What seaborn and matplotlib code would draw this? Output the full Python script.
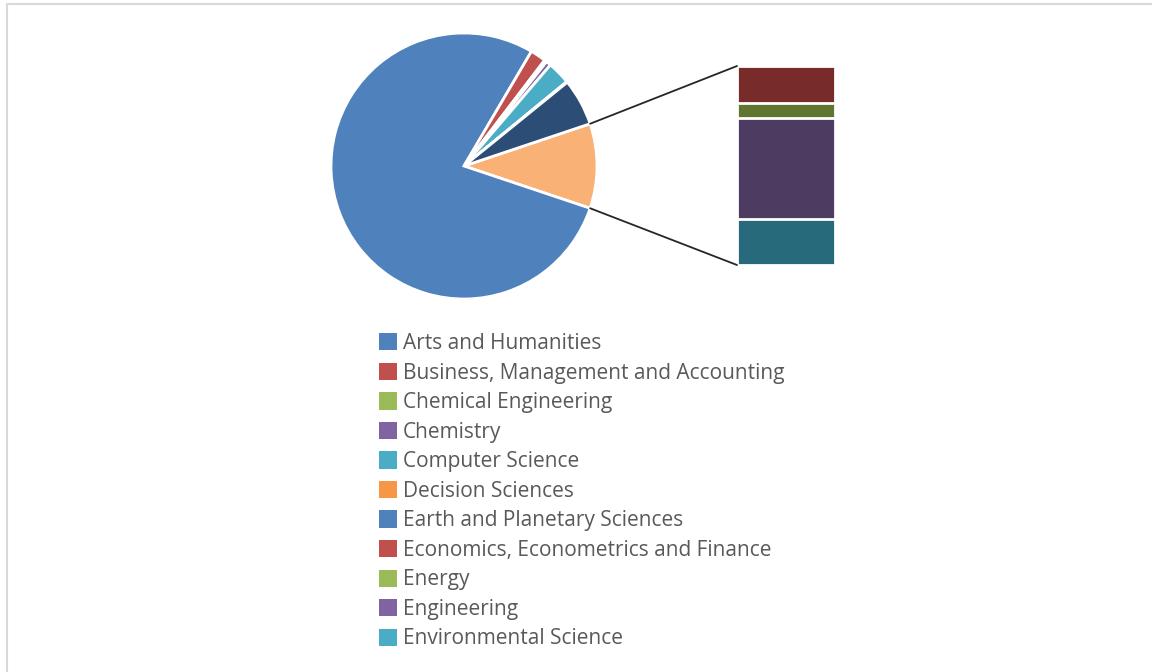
import math
import matplotlib
matplotlib.use("Agg")
import matplotlib.pyplot as plt
import seaborn as sns
from matplotlib.patches import Patch, Rectangle, ConnectionPatch

# main pie categories (share of documents, %)
main_labels = ["Arts and Humanities", "Business, Management and Accounting",
               "Chemical Engineering", "Chemistry", "Computer Science",
               "Decision Sciences", "Earth and Planetary Sciences"]
main_values = [78.4, 1.9, 0.3, 0.6, 2.8, 0.1, 5.7]

# categories split out into the secondary bar
other_labels = ["Economics, Econometrics and Finance", "Energy",
                "Engineering", "Environmental Science"]
other_values = [1.9, 0.8, 5.2, 2.4]

main_colors = ["#4F81BD", "#C0504D", "#9BBB59", "#8064A2", "#4BACC6",
               "#F79646", "#2C4D75"]
other_slice_color = "#FAB175"
other_colors = ["#772C2A", "#5F7530", "#4D3B62", "#276A7C"]
legend_palette = ["#4F81BD", "#C0504D", "#9BBB59", "#8064A2", "#4BACC6", "#F79646"]

sns.set_theme(style="white")
plt.rcParams["font.family"] = ["Open Sans", "DejaVu Sans"]

W, H = 1152, 672
fig = plt.figure(figsize=(W / 100, H / 100), dpi=100)
fig.patch.set_facecolor("white")

# pie of pie: main pie
cx, cy, r = 464, 166, 133
ax_pie = fig.add_axes([(cx - r) / W, 1 - (cy + r) / H, 2 * r / W, 2 * r / H])
other_total = sum(other_values)
pie_values = [other_total] + main_values
pie_colors = [other_slice_color] + main_colors
start = 180 * other_total / sum(pie_values)
wedges, _ = ax_pie.pie(pie_values, colors=pie_colors, startangle=start,
                       counterclock=False, radius=1,
                       wedgeprops=dict(edgecolor="white", linewidth=2))
ax_pie.set_xlim(-1, 1)
ax_pie.set_ylim(-1, 1)
ax_pie.axis("off")

# secondary stacked bar (first item on top)
bx0, bx1, by0, by1 = 737, 835, 66, 265
ax_bar = fig.add_axes([bx0 / W, 1 - by1 / H, (bx1 - bx0) / W, (by1 - by0) / H])
cum = []
running = 0
for v in reversed(other_values):
    running += v
    cum.append(running)
cum = cum[::-1]
for val, col in zip(cum, other_colors):
    sns.barplot(x=[0], y=[val], color=col, saturation=1, width=1,
                edgecolor="white", linewidth=2, ax=ax_bar)
ax_bar.set_xlim(-0.5, 0.5)
ax_bar.set_ylim(0, other_total)
ax_bar.axis("off")

# connector lines from "other" slice to bar
w = wedges[0]
for ang, ybar in [(w.theta2, other_total), (w.theta1, 0)]:
    xa, ya = math.cos(math.radians(ang)), math.sin(math.radians(ang))
    con = ConnectionPatch(xyA=(xa, ya), coordsA=ax_pie.transData,
                          xyB=(-0.5, ybar), coordsB=ax_bar.transData,
                          color="#262626", lw=1.3)
    fig.add_artist(con)

# legend
legend_labels = main_labels + other_labels
handles = [Patch(facecolor=legend_palette[i % len(legend_palette)], edgecolor="none")
           for i in range(len(legend_labels))]
fig.legend(handles, legend_labels, loc="upper left",
           bbox_to_anchor=(379 / W, 1 - 333 / H), frameon=False,
           fontsize=15, labelcolor="#595959", borderpad=0, borderaxespad=0,
           handlelength=0.87, handleheight=0.9, handletextpad=0.28,
           labelspacing=0.41)

# chart area border
fig.add_artist(Rectangle((7 / W, -0.05), 1.2, 1 - 4 / H + 0.05,
                         transform=fig.transFigure, fill=False,
                         edgecolor="#D9D9D9", lw=1.5))

fig.savefig("out.png", dpi=100)
